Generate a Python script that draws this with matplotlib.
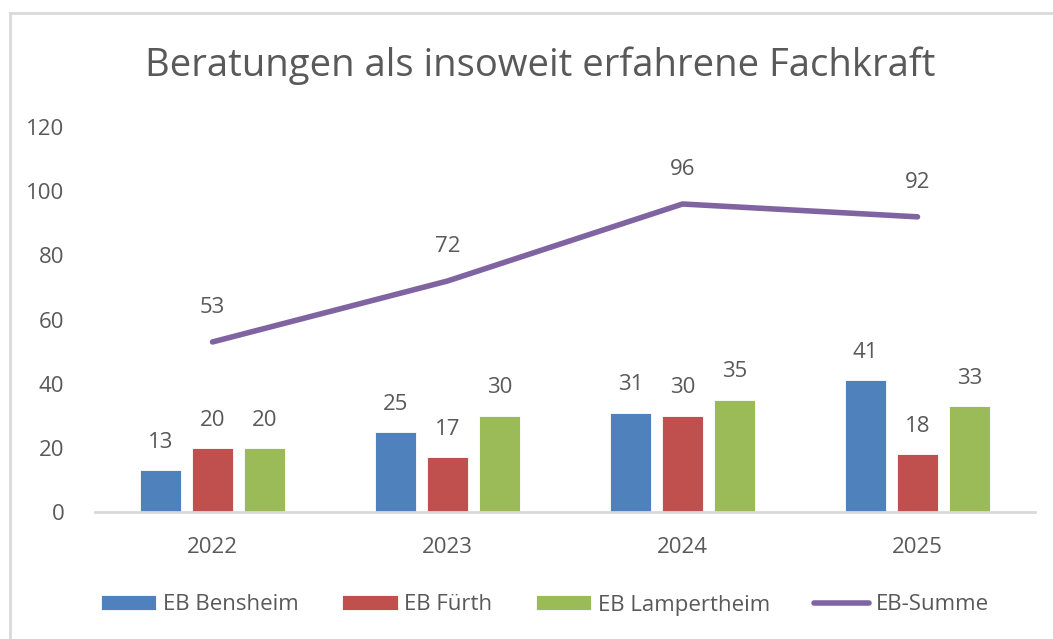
import numpy as np
import matplotlib.pyplot as plt
from matplotlib.lines import Line2D

years = ["2022", "2023", "2024", "2025"]
bensheim = [13, 25, 31, 41]
fuerth = [20, 17, 30, 18]
lampertheim = [20, 30, 35, 33]
summe = [53, 72, 96, 92]

series_names = ["EB Bensheim", "EB Fürth", "EB Lampertheim", "EB-Summe"]
colors = ["#4F81BD", "#C0504D", "#9BBB59", "#8064A2"]
txt = "#595959"

plt.rcParams['font.family'] = ['Open Sans', 'DejaVu Sans']

fig = plt.figure(figsize=(10.53, 6.39), dpi=100)
ax = fig.add_axes([95/1053, 1-512/639, 940/1053, 385/639])

x = np.arange(len(years))
w = 0.175
step = 0.221
bars = []
for i, vals in enumerate([bensheim, fuerth, lampertheim]):
    b = ax.bar(x + (i-1)*step, vals, width=w, color=colors[i], label=series_names[i],
               edgecolor="white", linewidth=0.6, zorder=2)
    bars.append(b)
    for xi, v in zip(x + (i-1)*step, vals):
        ax.annotate(str(v), (xi, v), xytext=(0, 20), textcoords="offset points",
                    ha="center", va="center", fontsize=16, color=txt)

ax.plot(x, summe, color=colors[3], lw=4, solid_capstyle="round", zorder=3)
for xi, v in zip(x, summe):
    ax.annotate(str(v), (xi, v), xytext=(0, 25), textcoords="offset points",
                ha="center", va="center", fontsize=16, color=txt)

ax.set_xlim(-0.5, 3.5)
ax.set_ylim(0, 120)
ax.set_yticks(range(0, 121, 20))
ax.set_xticks(x)
ax.set_xticklabels(years)
ax.tick_params(axis="both", length=0, labelsize=16, labelcolor=txt)
ax.tick_params(axis="y", pad=22)
ax.tick_params(axis="x", pad=18)
for s in ["top", "right", "left"]:
    ax.spines[s].set_visible(False)
ax.spines["bottom"].set_color("#D9D9D9")
ax.spines["bottom"].set_linewidth(2)

fig.text(540/1053, 1-66/639, "Beratungen als insoweit erfahrene Fachkraft",
         ha="center", va="center", fontsize=27.5, color=txt)

handles = [bars[0], bars[1], bars[2],
           Line2D([0], [0], color=colors[3], lw=4, solid_capstyle="round")]
fig.legend(handles, series_names, loc="center", bbox_to_anchor=(545/1053, 1-605/639),
           ncol=4, frameon=False, fontsize=16, labelcolor=txt,
           handlelength=2.5, handleheight=0.68, handletextpad=0.3, columnspacing=1.95)

# chart frame (left and top edges visible in the crop)
fig.add_artist(Line2D([10/1053, 10/1053], [0, 1-13/639], color="#D9D9D9", lw=2))
fig.add_artist(Line2D([10/1053, 1], [1-13/639, 1-13/639], color="#D9D9D9", lw=2))

fig.savefig("out.png", dpi=100)
